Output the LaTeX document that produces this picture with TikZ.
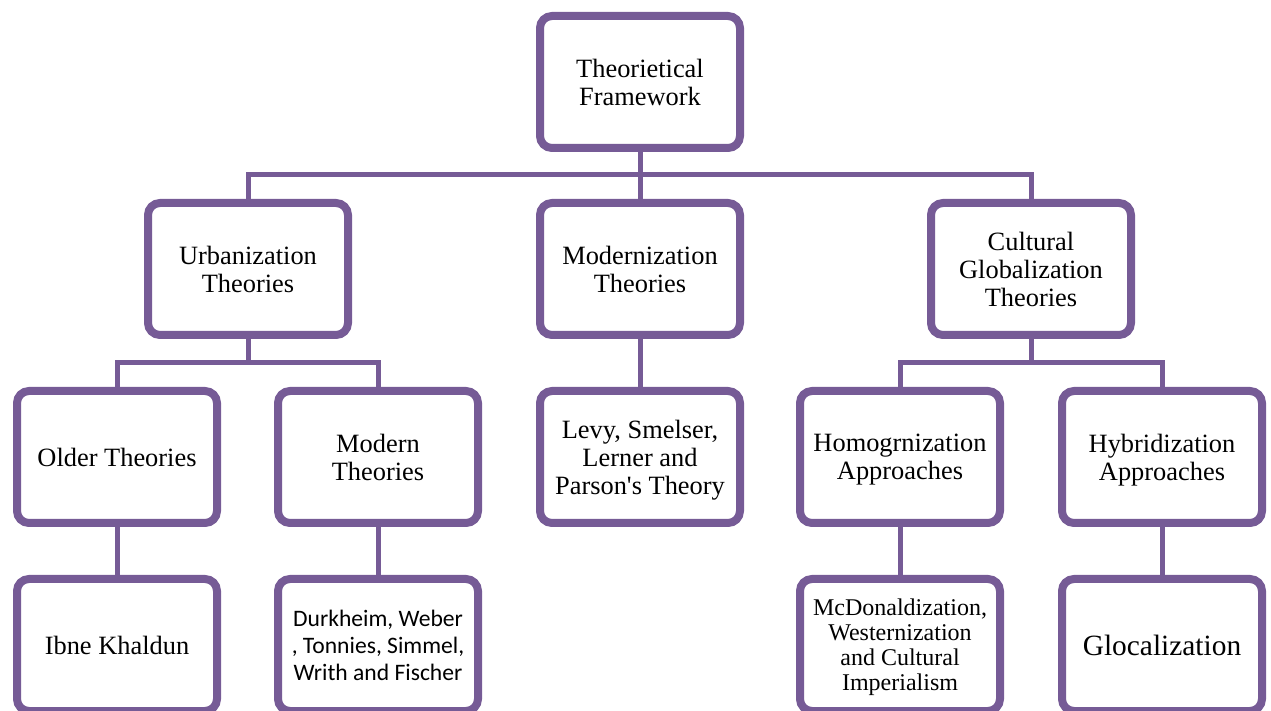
\documentclass[tikz,border=0pt]{standalone}
\usepackage{fontspec}
\setmainfont{Liberation Serif}
\newfontfamily\calib{Carlito}
\usetikzlibrary{shadows,backgrounds}
\newcommand{\straightq}{{\XeTeXglyph\XeTeXcharglyph"0027\relax}}
\definecolor{boxpurple}{RGB}{118,91,150}
\tikzset{
  box/.style={draw=boxpurple, line width=4pt, fill=white, rounded corners=6pt,
    minimum width=100pt, minimum height=66pt, align=center, inner sep=2pt,
    text depth=0pt,
    font=\fontsize{13.2}{14}\selectfont,
    drop shadow={shadow xshift=1.2pt, shadow yshift=-1.5pt, opacity=0.25, fill=black}},
  conn/.style={draw=boxpurple, line width=2.5pt},
}
\begin{document}
\begin{tikzpicture}[x=0.5pt,y=-0.5pt]
\useasboundingbox (0,0) rectangle (1271,711);
% level 1
\node[box] (top) at (640,82) {Theorietical\\Framework};
% level 2
\node[box] (urb) at (248,269) {Urbanization\\Theories};
\node[box] (mod) at (640,269) {Modernization\\Theories};
\node[box] (cul) at (1031,269) {Cultural\\Globalization\\Theories};
% level 3
\node[box] (old) at (117,457) {Older Theories};
\node[box] (mdn) at (378,457) {Modern\\Theories};
\node[box] (lev) at (640,457) {Levy, Smelser,\\Lerner and\\Parson\straightq s Theory};
\node[box] (hom) at (900,457) {Homogrnization\\Approaches};
\node[box] (hyb) at (1162,457) {Hybridization\\Approaches};
% level 4
\node[box] (ibn) at (117,645) {Ibne Khaldun};
\node[box, font=\calib\fontsize{11.8}{13.5}\selectfont] (dur) at (378,645) {Durkheim, Weber\\, Tonnies, Simmel,\\Writh and Fischer};
\node[box, font=\fontsize{12}{12.5}\selectfont] (mcd) at (900,645) {McDonaldization,\\Westernization\\and Cultural\\Imperialism};
\node[box, font=\fontsize{14.7}{16}\selectfont] (glo) at (1162,645) {Glocalization};
% connectors
\coordinate (b1) at (640,175);
\coordinate (b2) at (248,363);
\coordinate (b3) at (1031,363);
\begin{scope}[on background layer]
\draw[conn] (top.south) -- (b1);
\draw[conn] (urb.north) |- (b1) -| (cul.north);
\draw[conn] (b1) -- (mod.north);
\draw[conn] (urb.south) -- (b2);
\draw[conn] (old.north) |- (b2) -| (mdn.north);
\draw[conn] (cul.south) -- (b3);
\draw[conn] (hom.north) |- (b3) -| (hyb.north);
\draw[conn] (mod.south) -- (lev.north);
\draw[conn] (old.south) -- (ibn.north);
\draw[conn] (mdn.south) -- (dur.north);
\draw[conn] (hom.south) -- (mcd.north);
\draw[conn] (hyb.south) -- (glo.north);
\end{scope}
\end{tikzpicture}
\end{document}
